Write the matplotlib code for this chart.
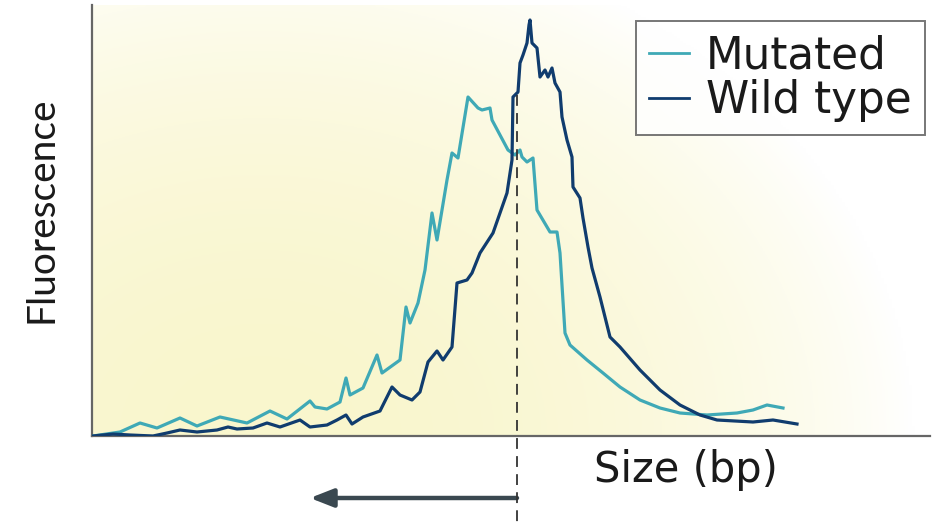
import numpy as np
import matplotlib
matplotlib.use("Agg")
from matplotlib import pyplot as plt

# values (arbitrary size / fluorescence units)
mut_size = [1, 28, 48, 65, 88, 105, 128, 155, 178, 195, 218, 223, 235, 248, 254, 258,
            271, 285, 290, 308, 314, 318, 326, 333, 340, 345, 355, 360, 366, 376, 386,
            390, 398, 400, 416, 423, 428, 430, 435, 441, 445, 458, 465, 468, 473, 478,
            495, 511, 528, 548, 568, 588, 615, 645, 661, 675, 691]
mut_fl = [0, 4, 13, 8, 18, 10, 19, 13, 25, 17, 35, 29, 27, 34, 58, 41,
          48, 81, 63, 76, 129, 113, 133, 166, 223, 196, 256, 283, 278, 339, 328,
          326, 328, 316, 286, 281, 286, 279, 274, 278, 226, 204, 204, 183, 103, 91,
          76, 63, 49, 36, 28, 23, 21, 23, 26, 31, 28]

wt_size = [1, 21, 38, 61, 75, 88, 105, 125, 136, 145, 161, 175, 188, 208, 218, 235,
           245, 254, 260, 271, 288, 300, 308, 320, 328, 336, 345, 351, 360, 365, 375,
           380, 388, 401, 415, 420, 421, 426, 428, 431, 435, 437, 438, 440, 445, 448,
           453, 456, 460, 463, 468, 470, 475, 480, 481, 488, 491, 496, 500, 508, 518,
           528, 548, 568, 588, 608, 625, 661, 681, 705]
wt_fl = [0, 2, 1, 0, 3, 6, 4, 6, 9, 7, 8, 13, 9, 16, 9, 11,
         16, 21, 12, 19, 25, 49, 41, 36, 44, 74, 85, 76, 89, 153, 156,
         163, 183, 203, 243, 276, 339, 344, 373, 381, 393, 411, 416, 393, 388, 359,
         366, 359, 368, 353, 344, 319, 296, 279, 249, 238, 218, 189, 168, 139, 99,
         89, 66, 46, 31, 21, 16, 14, 16, 12]

labels = ["Mutated", "Wild type"]
mut_color = "#3fa9b6"
wt_color = "#103c6e"

fig = plt.figure(figsize=(9.39, 5.25), dpi=100)
fig.patch.set_facecolor("white")
ax = fig.add_axes([92 / 939, 89 / 525, 838 / 939, 431 / 525])
ax.set_xlim(0, 838)
ax.set_ylim(0, 431)

# soft yellow wash behind the curves
gx, gy = np.meshgrid(np.linspace(0, 1, 300), np.linspace(0, 1, 200))
w = np.clip(1 - ((gx - 0.2) / 0.78) ** 2 - (gy / 1.2) ** 2, 0, 1) ** 0.85
yel = np.array([249, 246, 205]) / 255.0
img = 1 - w[..., None] * (1 - yel)
ax.imshow(img, extent=[0, 838, 0, 431], origin="lower", aspect="auto", zorder=0)

l1, = ax.plot(mut_size, mut_fl, color=mut_color, lw=2.3, zorder=3, solid_joinstyle="round")
l2, = ax.plot(wt_size, wt_fl, color=wt_color, lw=2.3, zorder=4, solid_joinstyle="round")

for s in ["top", "right"]:
    ax.spines[s].set_visible(False)
for s in ["left", "bottom"]:
    ax.spines[s].set_color("#666666")
    ax.spines[s].set_linewidth(1.6)
ax.set_xticks([])
ax.set_yticks([])

# reference size marker and shift arrow
ax.plot([425, 425], [341, -90], color="#333333", lw=1.3, ls=(0, (6, 4)),
        clip_on=False, zorder=5)
ax.annotate("", xy=(218, -62), xytext=(425, -62), xycoords="data",
            arrowprops=dict(arrowstyle="-|>,head_length=1.4,head_width=0.55",
                            color="#3a4850", lw=3.2, shrinkA=0, shrinkB=0),
            annotation_clip=False)

leg = ax.legend([l1, l2], labels, loc="upper right", bbox_to_anchor=(833 / 838, 1 - 16 / 431),
                prop={"family": "DejaVu Sans", "size": 31.5}, frameon=True, fancybox=False,
                handlelength=0.9, handletextpad=0.4, borderpad=0.3, labelspacing=0.05,
                borderaxespad=0)
leg.get_frame().set_edgecolor("#555555")
leg.get_frame().set_linewidth(1.4)
for h in leg.get_lines():
    h.set_linewidth(2)
for t in leg.get_texts():
    t.set_color("#1a1a1a")

fig.text(686 / 939, 1 - 470 / 525, "Size (bp)", family="DejaVu Sans", size=30,
         color="#1a1a1a", ha="center", va="center")
fig.text(42 / 939, 1 - 210 / 525, "Fluorescence", family="Lato",
         size=28, color="#1a1a1a", rotation=90, ha="center", va="center")

fig.savefig("out.png", dpi=100)
